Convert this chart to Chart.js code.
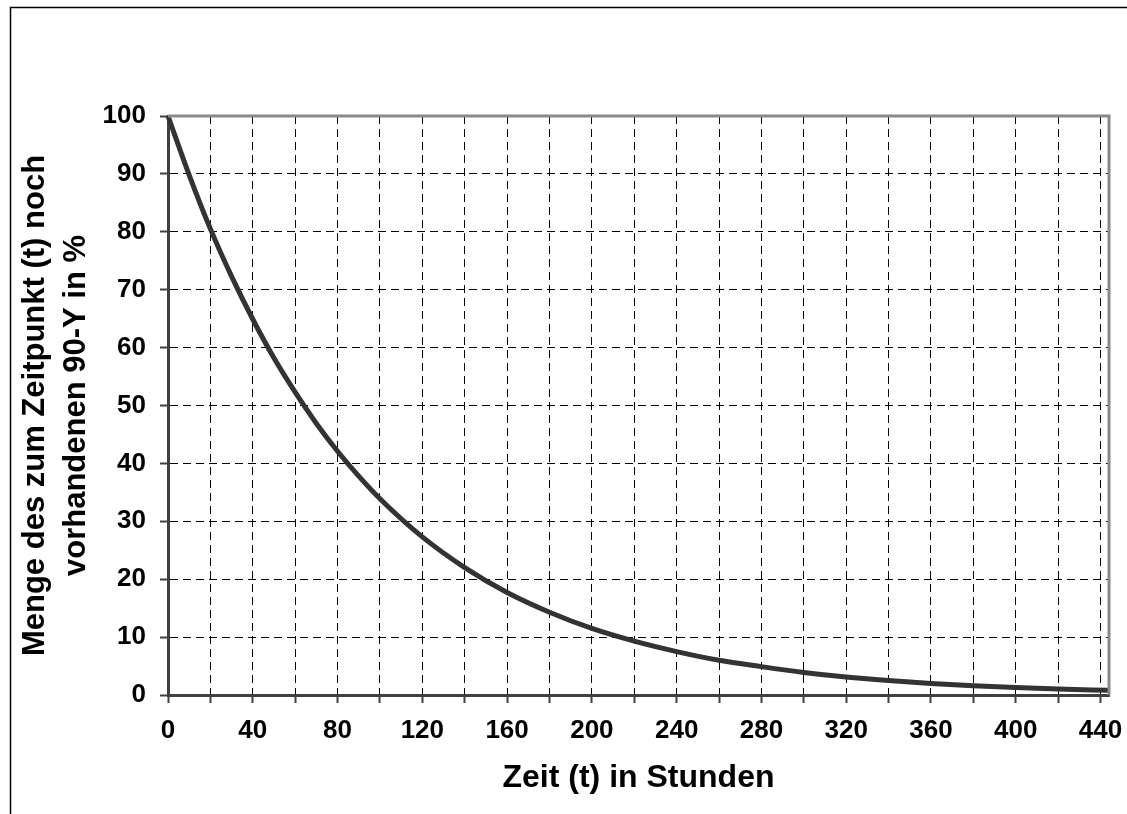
<!DOCTYPE html>
<html>
<head>
<meta charset="utf-8">
<script src="https://cdn.jsdelivr.net/npm/chart.js@4/dist/chart.umd.min.js"></script>
<style>
  html, body { margin: 0; padding: 0; background: #fff; overflow: hidden; }
  #wrap { position: relative; width: 1127px; height: 814px; }
</style>
</head>
<body>
<div id="wrap"><canvas id="myChart" width="1127" height="814"></canvas></div>
<script>

	// Zeit in Stunden und noch vorhandene Menge 90-Y in %
	var hours = [0, 10, 20, 30, 40, 50, 60, 70, 80, 90, 100, 120, 140, 160, 180, 200, 220, 240, 260, 280, 300, 320, 340, 360, 380, 400, 420, 444];
	var percent = [100, 89.8, 80.5, 72.3, 64.9, 58.2, 52.3, 46.9, 42.1, 37.8, 33.9, 27.3, 22.0, 17.7, 14.3, 11.5, 9.3, 7.5, 6.0, 4.9, 3.9, 3.1, 2.5, 2.0, 1.6, 1.3, 1.05, 0.8];

	var xMax = 444;
	var xStep = 20;
	var xLabelStep = 40;
	var yStep = 10;

	var xTitle = 'Zeit (t) in Stunden';
	var yTitle = ['Menge des zum Zeitpunkt (t) noch', 'vorhandenen 90-Y in %'];

	var points = hours.map(function (h, i) { return { x: h, y: percent[i] }; });

	var fontFamily = "'Liberation Sans', Arial, sans-serif";

	// Rahmen um das ganze Diagramm und grauer Rand oben/rechts am Plotbereich
	var framePlugin = {
	    id: 'frames',
	    beforeDraw: function (chart) {
	        var c = chart.ctx;
	        c.save();
	        c.strokeStyle = '#000';
	        c.lineWidth = 1.5;
	        c.beginPath();
	        c.moveTo(10.5, 814);
	        c.lineTo(10.5, 7.5);
	        c.lineTo(1127, 7.5);
	        c.stroke();
	        c.restore();
	    },
	    afterDraw: function (chart) {
	        var a = chart.chartArea;
	        var c = chart.ctx;
	        c.save();
	        c.strokeStyle = '#8a8a8a';
	        c.lineWidth = 3;
	        c.beginPath();
	        c.moveTo(a.left, a.top);
	        c.lineTo(a.right, a.top);
	        c.lineTo(a.right, a.bottom);
	        c.stroke();
	        c.restore();
	    }
	};

	var ctx = document.getElementById('myChart').getContext('2d');
	var chart = new Chart(ctx, {
	    type: 'scatter',
	    data: {
	        datasets: [{
	            label: '90-Y',
	            data: points,
	            showLine: true,
	            borderColor: '#333333',
	            borderWidth: 5,
	            pointRadius: 0,
	            cubicInterpolationMode: 'monotone',
	            clip: false
	        }]
	    },
	    options: {
	        responsive: false,
	        animation: false,
	        layout: { padding: { top: 116, right: 18, left: 0, bottom: 0 } },
	        plugins: {
	            legend: { display: false },
	            tooltip: { enabled: false }
	        },
	        scales: {
	            x: {
	                type: 'linear',
	                min: 0,
	                max: xMax,
	                afterFit: function (s) {
	                    s.height = 119;
	                    s.paddingLeft = 0;
	                    s.paddingRight = 0;
	                },
	                ticks: {
	                    stepSize: xStep,
	                    includeBounds: false,
	                    autoSkip: false,
	                    maxRotation: 0,
	                    padding: 12,
	                    color: '#000',
	                    font: { family: fontFamily, size: 26, weight: 'bold' },
	                    callback: function (v) { return v % xLabelStep === 0 ? String(v) : ''; }
	                },
	                grid: {
	                    color: '#000',
	                    lineWidth: 1,
	                    tickLength: 8,
	                    tickColor: '#404040',
	                    tickWidth: 2
	                },
	                border: { display: true, color: '#404040', width: 3, dash: [8, 5] },
	                title: {
	                    display: true,
	                    text: xTitle,
	                    color: '#000',
	                    font: { family: fontFamily, size: 32, weight: 'bold', lineHeight: 1.2 },
	                    padding: { top: 0, bottom: 17 }
	                }
	            },
	            y: {
	                min: 0,
	                max: 100,
	                afterFit: function (s) {
	                    s.width = 168;
	                    s.paddingTop = 0;
	                    s.paddingBottom = 0;
	                },
	                ticks: {
	                    stepSize: yStep,
	                    padding: 14,
	                    color: '#000',
	                    font: { family: fontFamily, size: 26, weight: 'bold' }
	                },
	                grid: {
	                    color: '#000',
	                    lineWidth: 1,
	                    tickLength: 8,
	                    tickColor: '#404040',
	                    tickWidth: 2
	                },
	                border: { display: true, color: '#404040', width: 3, dash: [8, 5] },
	                title: {
	                    display: true,
	                    text: yTitle,
	                    color: '#000',
	                    font: { family: fontFamily, size: 31, weight: 'bold', lineHeight: '41px' },
	                    padding: { top: 15, bottom: 0 }
	                }
	            }
	        }
	    },
	    plugins: [framePlugin]
	});

</script>
</body>
</html>
